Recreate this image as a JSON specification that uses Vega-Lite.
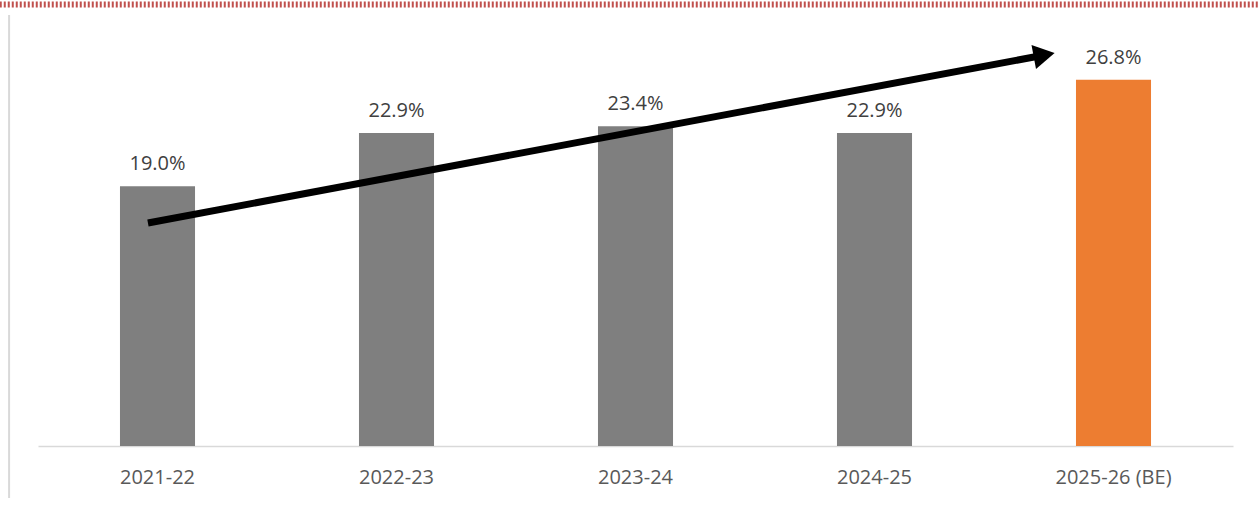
{
  "$schema": "https://vega.github.io/schema/vega-lite/v6.json",
  "width": 1195,
  "height": 410,
  "autosize": "none",
  "padding": {"left": 38, "top": 36, "right": 25, "bottom": 61},
  "background": "white",
  "config": {
    "view": {"stroke": null},
    "font": "Open Sans"
  },
  "datasets": {
    "bars": [
      {"year": "2021-22", "share": 19.0, "kind": "actual"},
      {"year": "2022-23", "share": 22.9, "kind": "actual"},
      {"year": "2023-24", "share": 23.4, "kind": "actual"},
      {"year": "2024-25", "share": 22.9, "kind": "actual"},
      {"year": "2025-26 (BE)", "share": 26.8, "kind": "budget"}
    ],
    "arrow": [
      {"pos": 0.46, "level": 16.32},
      {"pos": 4.19, "level": 28.54}
    ],
    "head": [
      {"pos": 4.21, "level": 28.61}
    ],
    "topband": [
      {"from": -0.16, "to": 5.11, "level": 32.3}
    ],
    "sideline": [
      {"pos": -0.121, "top": 31.54, "bottom": -3.8}
    ]
  },
  "layer": [
    {
      "data": {"name": "bars"},
      "encoding": {
        "x": {
          "field": "year",
          "type": "nominal",
          "sort": null,
          "scale": {"paddingInner": 0.686, "paddingOuter": 0.343},
          "axis": {
            "title": null,
            "labelAngle": 0,
            "ticks": false,
            "grid": false,
            "domainColor": "#d9d9d9",
            "domainWidth": 1.5,
            "labelFont": "Open Sans",
            "labelFontSize": 20,
            "labelColor": "#595959",
            "labelPadding": 21
          }
        },
        "y": {
          "field": "share",
          "type": "quantitative",
          "scale": {"domain": [0, 30], "nice": false, "zero": true},
          "axis": null
        }
      },
      "layer": [
        {
          "mark": {"type": "bar"},
          "encoding": {
            "color": {
              "field": "kind",
              "type": "nominal",
              "scale": {"domain": ["actual", "budget"], "range": ["#7f7f7f", "#ed7d31"]},
              "legend": null
            }
          }
        },
        {
          "transform": [
            {"calculate": "format(datum.share, '.1f') + '%'", "as": "label"}
          ],
          "mark": {"type": "text", "baseline": "middle", "dy": -22, "fontSize": 20, "color": "#404040", "font": "Open Sans"},
          "encoding": {
            "text": {"field": "label", "type": "nominal"}
          }
        }
      ]
    },
    {
      "data": {"name": "arrow"},
      "mark": {"type": "line", "color": "black", "strokeWidth": 7, "strokeCap": "butt"},
      "encoding": {
        "x": {"field": "pos", "type": "quantitative", "scale": {"domain": [0, 5], "nice": false, "zero": false}, "axis": null},
        "y": {"field": "level", "type": "quantitative", "scale": {"domain": [0, 30], "nice": false}}
      }
    },
    {
      "data": {"name": "head"},
      "mark": {"type": "point", "shape": "triangle-right", "filled": true, "color": "black", "opacity": 1, "size": 600, "angle": 349.4},
      "encoding": {
        "x": {"field": "pos", "type": "quantitative", "scale": {"domain": [0, 5], "nice": false, "zero": false}, "axis": null},
        "y": {"field": "level", "type": "quantitative", "scale": {"domain": [0, 30], "nice": false}}
      }
    },
    {
      "data": {"name": "topband"},
      "mark": {"type": "rule", "color": "#c0504d", "strokeWidth": 6, "strokeDash": [2, 2], "clip": false},
      "encoding": {
        "x": {"field": "from", "type": "quantitative", "scale": {"domain": [0, 5], "nice": false, "zero": false}, "axis": null},
        "x2": {"field": "to"},
        "y": {"field": "level", "type": "quantitative", "scale": {"domain": [0, 30], "nice": false}}
      }
    },
    {
      "data": {"name": "sideline"},
      "mark": {"type": "rule", "color": "#d9d9d9", "strokeWidth": 2, "clip": false},
      "encoding": {
        "x": {"field": "pos", "type": "quantitative", "scale": {"domain": [0, 5], "nice": false, "zero": false}, "axis": null},
        "y": {"field": "top", "type": "quantitative", "scale": {"domain": [0, 30], "nice": false}},
        "y2": {"field": "bottom"}
      }
    }
  ],
  "resolve": {"scale": {"x": "independent"}}
}
